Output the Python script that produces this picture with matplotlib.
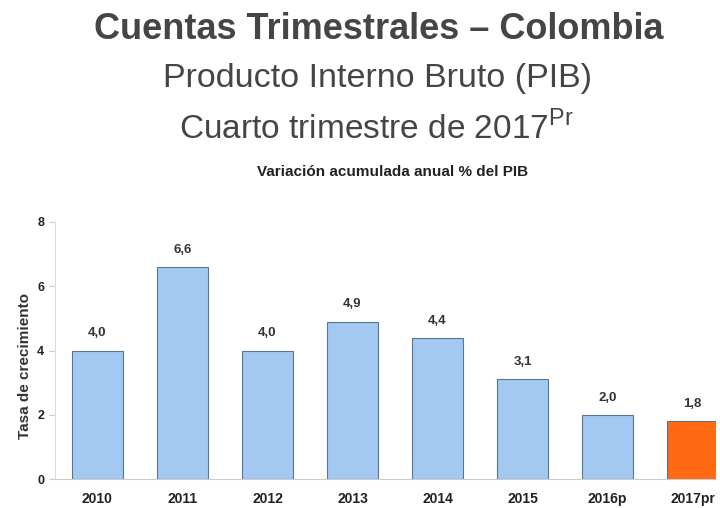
import numpy as np
import matplotlib.pyplot as plt

plt.rcParams['font.family'] = ['Liberation Sans', 'DejaVu Sans']

years = ['2010', '2011', '2012', '2013', '2014', '2015', '2016p', '2017pr']
growth = [4.0, 6.6, 4.0, 4.9, 4.4, 3.1, 2.0, 1.8]
labels = ['4,0', '6,6', '4,0', '4,9', '4,4', '3,1', '2,0', '1,8']

blue = '#a3c8f2'
orange = '#ff6a12'
colors = [blue] * (len(years) - 1) + [orange]

fig = plt.figure(figsize=(7.2, 5.08), dpi=100)
fig.patch.set_facecolor('white')

# titulos
fig.text(0.526, 0.942, 'Cuentas Trimestrales \u2013 Colombia', ha='center', va='center',
         fontsize=26, fontweight='bold', color='#454545')
fig.text(0.524, 0.845, 'Producto Interno Bruto (PIB)', ha='center', va='center',
         fontsize=24.5, color='#454545')
fig.text(0.522, 0.748, 'Cuarto trimestre de 2017$^{\\mathregular{Pr}}$', ha='center',
         va='center', fontsize=24, color='#454545')
fig.text(0.545, 0.661, 'Variación acumulada anual % del PIB', ha='center', va='center',
         fontsize=11, fontweight='bold', color='#222222')

ax = fig.add_axes([0.076, 0.057, 0.918, 0.506])
x = np.arange(len(years))
ax.bar(x, growth, width=0.6, color=colors, edgecolor='#5a7590', linewidth=0.8)

for xi, v, t in zip(x, growth, labels):
    ax.annotate(t, (xi, v), xytext=(0, 8), textcoords='offset points',
                ha='center', va='bottom', fontsize=9.5, fontweight='bold',
                color='#333333')

ax.set_xlim(-0.5, 7.27)
ax.set_ylim(0, 8)
ax.set_yticks([0, 2, 4, 6, 8])
ax.set_xticks(x)
ax.set_xticklabels(years, fontsize=10, fontweight='bold', color='#222222')
ax.tick_params(axis='y', labelsize=9, colors='#222222', length=4, color='#cccccc')
ax.tick_params(axis='x', length=0, pad=9)
for lab in ax.get_yticklabels():
    lab.set_fontweight('bold')
ax.set_ylabel('Tasa de crecimiento', fontsize=11, fontweight='bold', color='#333333')
ax.yaxis.set_label_coords(-0.035, 0.44)

for s in ['top', 'right']:
    ax.spines[s].set_visible(False)
ax.spines['left'].set_color('#dddddd')
ax.spines['bottom'].set_color('#cccccc')

fig.savefig('out.png', dpi=100, facecolor='white')
